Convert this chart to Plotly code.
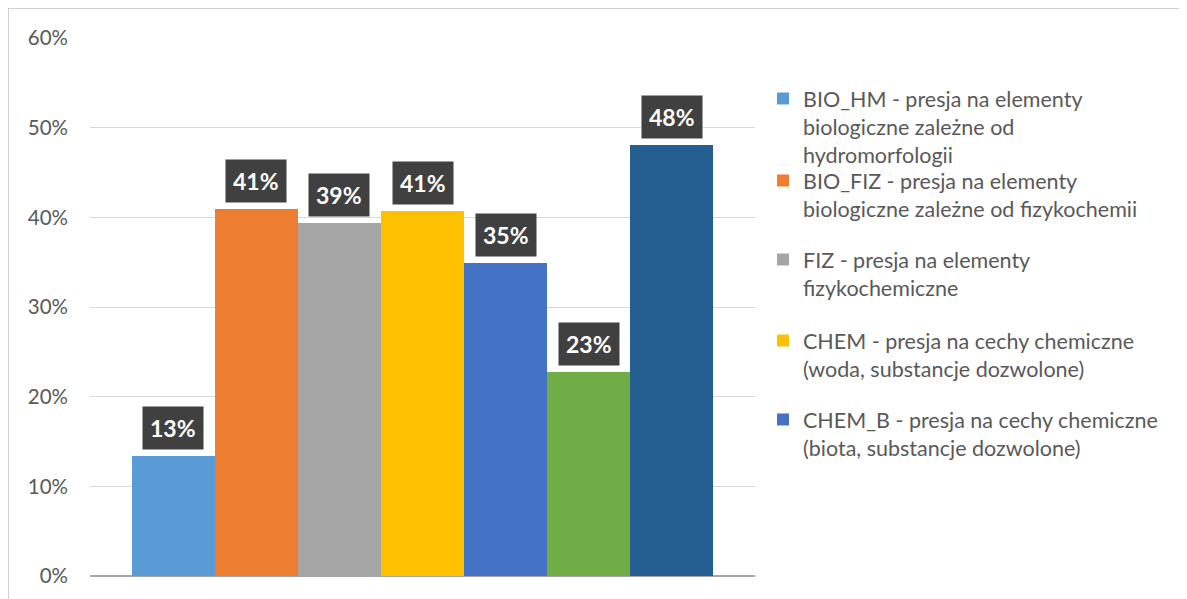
import plotly.graph_objects as go

series_names = [
    "BIO_HM - presja na elementy<br>biologiczne zależne od<br>hydromorfologii",
    "BIO_FIZ - presja na elementy<br>biologiczne zależne od fizykochemii",
    "FIZ - presja na elementy<br>fizykochemiczne",
    "CHEM - presja na cechy chemiczne<br>(woda, substancje dozwolone)",
    "CHEM_B - presja na cechy chemiczne<br>(biota, substancje dozwolone)",
    "Seria 6",
    "Seria 7",
]
values = [0.134, 0.409, 0.394, 0.407, 0.349, 0.228, 0.481]
colors = ["#5B9BD5", "#ED7D31", "#A5A5A5", "#FFC000", "#4472C4", "#70AD47", "#255E91"]
y_ticks = [0, 0.1, 0.2, 0.3, 0.4, 0.5, 0.6]

FONT = "Lato"
OFF = 8  # page body margin
W, H = 1187 - OFF, 599 - OFF
# target plot area in page px: x 90..755, y 38..576
ML, MT = 90 - OFF, 38 - OFF
PW, PH = 755 - 90, 576 - 38
MR, MB = W - ML - PW, H - MT - PH

def py(page_y):
    return (MT + PH - (page_y - OFF)) / PH

def pxr(page_x):
    return (page_x - OFF - ML) / PW

# page y of top of each legend block
legend_tops = [78, 160, 239, 320, 399]

fig = go.Figure()
for i, (n, v, c) in enumerate(zip(series_names, values, colors)):
    show = i < 5
    fig.add_trace(go.Bar(
        x=[i], y=[v], name=n, marker=dict(color=c, line=dict(width=0)),
        width=1.0, showlegend=show,
        legend=("legend" if i == 0 else f"legend{i+1}") if show else None,
        hoverinfo="skip",
    ))
    fig.add_annotation(
        x=i, y=v, xref="x", yref="y", yanchor="bottom", yshift=6,
        text=f"<b>{round(v*100)}%</b>", showarrow=False,
        bgcolor="#404040", borderpad=7,
        font=dict(family=FONT, size=23, color="white"),
    )

legend_common = dict(
    font=dict(family=FONT, size=21.5, color="#595959"),
    bgcolor="rgba(0,0,0,0)", borderwidth=0, valign="top",
    xanchor="left", yanchor="top", itemsizing="constant",
)
layout_legends = {}
for k, top in enumerate(legend_tops):
    key = "legend" if k == 0 else f"legend{k+1}"
    layout_legends[key] = dict(x=pxr(763), y=py(top), **legend_common)

fig.update_layout(
    width=W, height=H,
    margin=dict(l=ML, r=MR, t=MT, b=MB, pad=0),
    paper_bgcolor="white", plot_bgcolor="white",
    bargap=0, barmode="overlay",
    xaxis=dict(range=[-1.0, 7.0], showticklabels=False, showgrid=False,
               zeroline=False, showline=False, ticks=""),
    yaxis=dict(range=[0, 0.6], tickvals=y_ticks, tickformat=".0%",
               showgrid=True, gridcolor="#D9D9D9", gridwidth=1,
               zeroline=True, zerolinecolor="#A6A6A6", zerolinewidth=2,
               showline=False, ticks="", ticklabelstandoff=21,
               tickfont=dict(family=FONT, size=20.5, color="#595959")),
    **layout_legends,
)

# chart frame (top and left edges visible)
fig.add_shape(type="line", xref="paper", yref="paper",
              x0=pxr(8), x1=pxr(1200), y0=py(8), y1=py(8),
              line=dict(color="#BFBFBF", width=1.5))
fig.add_shape(type="line", xref="paper", yref="paper",
              x0=pxr(8), x1=pxr(8), y0=py(8), y1=py(610),
              line=dict(color="#BFBFBF", width=1.5))

fig.write_html("out.html")
